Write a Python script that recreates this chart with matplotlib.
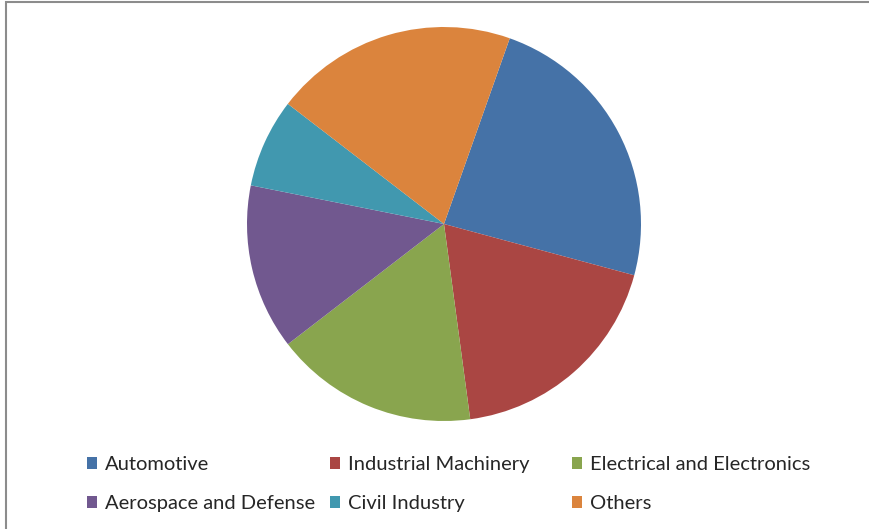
import matplotlib.pyplot as plt
from matplotlib.patches import Patch, Rectangle

# dados do grafico
setores = ['Automotive', 'Industrial Machinery', 'Electrical and Electronics',
           'Aerospace and Defense', 'Civil Industry', 'Others']
valores = [23.8, 18.7, 16.7, 13.6, 7.3, 20.0]
cores = ['#4572A7', '#AA4643', '#89A54E', '#71588F', '#4198AF', '#DB843D']

W, H = 869, 529
fig = plt.figure(figsize=(W / 100, H / 100), dpi=100)
plt.rcParams['font.family'] = ['Lato', 'DejaVu Sans']

# moldura cinza
fig.patches.append(Rectangle((6 / W, -0.1), 1.2, 1 - 2 / H + 0.1,
                             transform=fig.transFigure, fill=False,
                             edgecolor='#8c8c8c', linewidth=1.5))

# pizza
cx, cy, r = 444, 224, 197
ax = fig.add_axes([(cx - r) / W, 1 - (cy + r) / H, 2 * r / W, 2 * r / H])
ax.pie(valores, colors=cores, startangle=70.5, counterclock=False,
       radius=1, wedgeprops=dict(linewidth=0))
ax.set_xlim(-1, 1)
ax.set_ylim(-1, 1)
ax.set_aspect('equal')
ax.axis('off')

# legenda em 3 colunas de largura igual
colunas_x = [87, 330, 572]
for c in range(3):
    idx = [c, c + 3]
    handles = [Patch(facecolor=cores[i], edgecolor='none') for i in idx]
    leg = fig.legend(handles, [setores[i] for i in idx],
                     loc='upper left',
                     bbox_to_anchor=(colunas_x[c] / W, 1 - 456 / H),
                     frameon=False, fontsize=14.5, handlelength=0.5,
                     handleheight=0.5, handletextpad=0.4,
                     labelspacing=1.1, borderpad=0, borderaxespad=0,
                     labelcolor='#262626')

fig.savefig('out.png', dpi=100)
